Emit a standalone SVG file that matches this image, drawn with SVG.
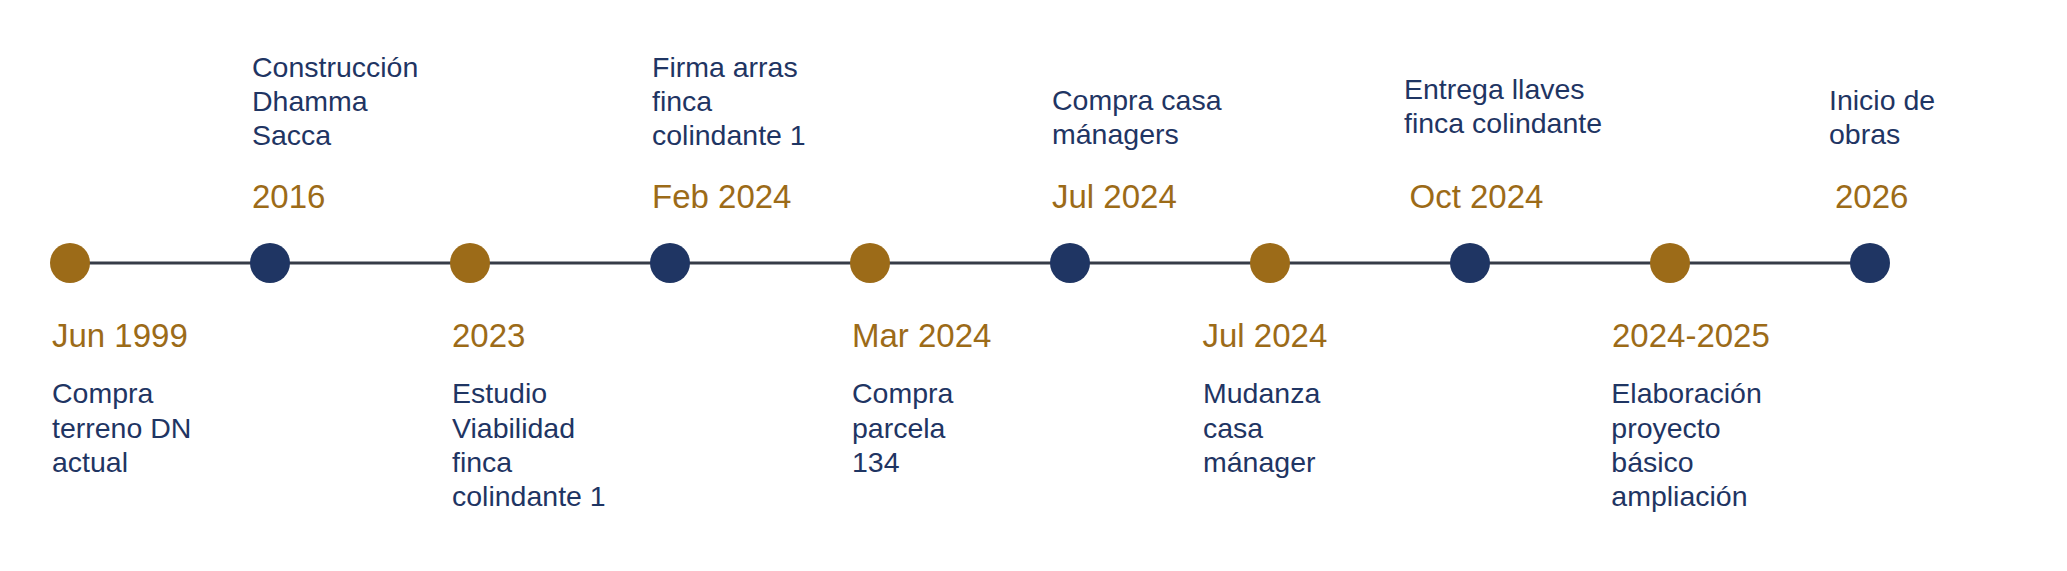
<svg xmlns="http://www.w3.org/2000/svg" width="2067" height="571" viewBox="0 0 2067 571">
<style>
.date{font-family:"Liberation Sans",Arial,sans-serif;font-size:33px;fill:#9c6b18}
.desc{font-family:"Liberation Sans",Arial,sans-serif;font-size:28.5px;fill:#1f3563}
.gold{fill:#9c6b18}
.navy{fill:#1f3563}
</style>
<rect width="2067" height="571" fill="#ffffff"/>
<g id="connectors">
<line x1="70" y1="263" x2="1870" y2="263" stroke="#363c48" stroke-width="3"/>
</g>
<g id="n1">
<circle class="gold" cx="70" cy="263" r="20"/>
<text class="date" x="52" y="347">Jun 1999</text>
<text class="desc" x="52"><tspan x="52" y="403.3">Compra</tspan><tspan x="52" y="437.5">terreno DN</tspan><tspan x="52" y="471.7">actual</tspan></text>
</g>
<g id="n2">
<circle class="navy" cx="270" cy="263" r="20"/>
<text class="date" x="252" y="207.5">2016</text>
<text class="desc"><tspan x="252" y="76.5">Construcción</tspan><tspan x="252" y="110.7">Dhamma</tspan><tspan x="252" y="145">Sacca</tspan></text>
</g>
<g id="n3">
<circle class="gold" cx="470" cy="263" r="20"/>
<text class="date" x="452" y="347">2023</text>
<text class="desc"><tspan x="452" y="403.3">Estudio</tspan><tspan x="452" y="437.5">Viabilidad</tspan><tspan x="452" y="471.7">finca</tspan><tspan x="452" y="505.9">colindante 1</tspan></text>
</g>
<g id="n4">
<circle class="navy" cx="670" cy="263" r="20"/>
<text class="date" x="652" y="207.5">Feb 2024</text>
<text class="desc"><tspan x="652" y="76.5">Firma arras</tspan><tspan x="652" y="110.7">finca</tspan><tspan x="652" y="145">colindante 1</tspan></text>
</g>
<g id="n5">
<circle class="gold" cx="870" cy="263" r="20"/>
<text class="date" x="852" y="347">Mar 2024</text>
<text class="desc"><tspan x="852" y="403.3">Compra</tspan><tspan x="852" y="437.5">parcela</tspan><tspan x="852" y="471.7">134</tspan></text>
</g>
<g id="n6">
<circle class="navy" cx="1070" cy="263" r="20"/>
<text class="date" x="1052" y="207.5">Jul 2024</text>
<text class="desc"><tspan x="1052" y="109.5">Compra casa</tspan><tspan x="1052" y="143.8">mánagers</tspan></text>
</g>
<g id="n7">
<circle class="gold" cx="1270" cy="263" r="20"/>
<text class="date" x="1202.5" y="347">Jul 2024</text>
<text class="desc"><tspan x="1203" y="403.3">Mudanza</tspan><tspan x="1203" y="437.5">casa</tspan><tspan x="1203" y="471.7">mánager</tspan></text>
</g>
<g id="n8">
<circle class="navy" cx="1470" cy="263" r="20"/>
<text class="date" x="1409.5" y="207.5">Oct 2024</text>
<text class="desc"><tspan x="1404" y="99">Entrega llaves</tspan><tspan x="1404" y="133.3">finca colindante</tspan></text>
</g>
<g id="n9">
<circle class="gold" cx="1670" cy="263" r="20"/>
<text class="date" x="1612" y="347">2024-2025</text>
<text class="desc"><tspan x="1611.3" y="403.3">Elaboración</tspan><tspan x="1611.3" y="437.5">proyecto</tspan><tspan x="1611.3" y="471.7">básico</tspan><tspan x="1611.3" y="505.9">ampliación</tspan></text>
</g>
<g id="n10">
<circle class="navy" cx="1870" cy="263" r="20"/>
<text class="date" x="1835" y="207.5">2026</text>
<text class="desc"><tspan x="1829" y="109.5">Inicio de</tspan><tspan x="1829" y="143.8">obras</tspan></text>
</g>
</svg>
